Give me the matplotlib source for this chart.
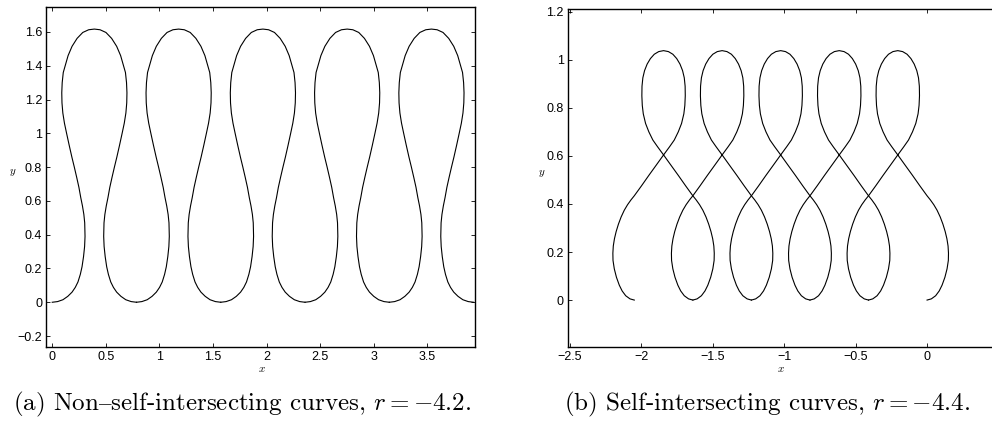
import numpy as np
import matplotlib
matplotlib.use('Agg')
import matplotlib.pyplot as plt

plt.rcParams['mathtext.fontset'] = 'cm'
plt.rcParams['font.family'] = ['Liberation Sans', 'DejaVu Sans']

# one period of the left curve (bottom -> top -> bottom)
loop_a_x = np.array([0.000, 0.050, 0.100, 0.145, 0.185, 0.215, 0.240, 0.262, 0.278, 0.292,
                     0.302, 0.306, 0.303, 0.295, 0.282, 0.266, 0.249, 0.228, 0.206, 0.183,
                     0.158, 0.134, 0.114, 0.099, 0.091, 0.089, 0.093, 0.103, 0.121, 0.148,
                     0.185, 0.232, 0.285, 0.340, 0.393,
                     0.446, 0.501, 0.554, 0.601, 0.638, 0.665, 0.683, 0.693, 0.697, 0.695,
                     0.687, 0.672, 0.652, 0.628, 0.603, 0.580, 0.558, 0.537, 0.520, 0.504,
                     0.491, 0.483, 0.480, 0.484, 0.494, 0.508, 0.524, 0.546, 0.571, 0.601,
                     0.641, 0.686, 0.736, 0.786])
loop_a_y = np.array([0.000, 0.004, 0.015, 0.035, 0.060, 0.088, 0.120, 0.165, 0.210, 0.270,
                     0.330, 0.390, 0.470, 0.520, 0.570, 0.620, 0.680, 0.740, 0.800, 0.860,
                     0.930, 1.000, 1.060, 1.120, 1.180, 1.240, 1.300, 1.360, 1.400, 1.460,
                     1.515, 1.562, 1.597, 1.613, 1.617,
                     1.613, 1.597, 1.562, 1.515, 1.460, 1.400, 1.360, 1.300, 1.240, 1.180,
                     1.120, 1.060, 1.000, 0.930, 0.860, 0.800, 0.740, 0.680, 0.620, 0.570,
                     0.520, 0.470, 0.390, 0.330, 0.270, 0.210, 0.165, 0.120, 0.088, 0.060,
                     0.035, 0.015, 0.004, 0.000])
shifts_a = [0.0, 0.786, 1.572, 2.358, 3.144]

# one period of the right curve (lower loop bottom -> upper loop -> next lower loop bottom)
loop_b_x = np.array([0.000, 0.030, 0.060, 0.085, 0.105, 0.125, 0.140, 0.149, 0.150, 0.147,
                     0.139, 0.127, 0.111, 0.092, 0.070, 0.047, 0.023, 0.000, -0.050, -0.102,
                     -0.153, -0.205, -0.247, -0.280, -0.308, -0.331, -0.347, -0.354, -0.357, -0.356,
                     -0.350, -0.338, -0.320, -0.297, -0.270, -0.239, -0.205,
                     -0.171, -0.140, -0.113, -0.090, -0.072, -0.060, -0.054, -0.053, -0.056, -0.063,
                     -0.079, -0.102, -0.130, -0.163, -0.205, -0.257, -0.308, -0.360, -0.410, -0.433,
                     -0.457, -0.480, -0.502, -0.521, -0.537, -0.549, -0.557, -0.560, -0.559, -0.550,
                     -0.535, -0.515, -0.495, -0.470, -0.440, -0.410])
loop_b_y = np.array([0.000, 0.005, 0.018, 0.038, 0.062, 0.095, 0.130, 0.165, 0.195, 0.225,
                     0.255, 0.285, 0.316, 0.346, 0.374, 0.397, 0.417, 0.434, 0.475, 0.519,
                     0.561, 0.604, 0.638, 0.666, 0.700, 0.735, 0.775, 0.810, 0.850, 0.890,
                     0.925, 0.955, 0.982, 1.005, 1.023, 1.034, 1.038,
                     1.034, 1.023, 1.005, 0.982, 0.955, 0.925, 0.890, 0.850, 0.810, 0.775,
                     0.735, 0.700, 0.666, 0.638, 0.604, 0.561, 0.519, 0.475, 0.434, 0.417,
                     0.397, 0.374, 0.346, 0.316, 0.285, 0.255, 0.225, 0.195, 0.165, 0.130,
                     0.095, 0.062, 0.038, 0.018, 0.005, 0.000])
shifts_b = [0.0, -0.41, -0.82, -1.23, -1.64]

xt_a = [0, 0.5, 1, 1.5, 2, 2.5, 3, 3.5]
xl_a = ['0', '0.5', '1', '1.5', '2', '2.5', '3', '3.5']
yt_a = [-0.2, 0, 0.2, 0.4, 0.6, 0.8, 1, 1.2, 1.4, 1.6]
yl_a = ['\u22120.2', '0', '0.2', '0.4', '0.6', '0.8', '1', '1.2', '1.4', '1.6']
xt_b = [-2.5, -2, -1.5, -1, -0.5, 0]
xl_b = ['\u22122.5', '\u22122', '\u22121.5', '\u22121', '\u22120.5', '0']
yt_b = [0, 0.2, 0.4, 0.6, 0.8, 1, 1.2]
yl_b = ['0', '0.2', '0.4', '0.6', '0.8', '1', '1.2']

cap_a = '(a) Non$\\mathrm{\u2013}$self-intersecting curves, $r=-4.2$.'
cap_b = '(b) Self-intersecting curves, $r=-4.4$.'

fig = plt.figure(figsize=(9.92, 4.21), dpi=100)
ax1 = fig.add_axes([0.0467, 0.1765, 0.4321, 0.8062])
ax2 = fig.add_axes([0.5726, 0.1765, 0.4476, 0.8014])

for s in shifts_a:
    ax1.plot(loop_a_x + s, loop_a_y, color='black', lw=0.8)
for s in shifts_b:
    ax2.plot(loop_b_x + s, loop_b_y, color='black', lw=0.8)

ax1.set_xlim(-0.055, 3.943)
ax1.set_ylim(-0.263, 1.746)
ax2.set_xlim(-2.514, 0.595)
ax2.set_ylim(-0.194, 1.21)

for ax, xt, xl, yt, yl in [(ax1, xt_a, xl_a, yt_a, yl_a), (ax2, xt_b, xl_b, yt_b, yl_b)]:
    ax.set_xticks(xt)
    ax.set_xticklabels(xl)
    ax.set_yticks(yt)
    ax.set_yticklabels(yl)
    ax.tick_params(direction='in', length=3, width=0.6, labelsize=9, pad=3,
                   top=True, right=True)
    for sp in ax.spines.values():
        sp.set_linewidth(1.0)
    ax.set_xlabel('$x$', fontsize=8, va='center')
    ax.set_ylabel('$y$', fontsize=8, rotation=0, va='center', ha='center')

ax1.xaxis.set_label_coords(0.502, -0.066)
ax1.yaxis.set_label_coords(-0.079, 0.512)
ax2.xaxis.set_label_coords(0.48, -0.066)
ax2.yaxis.set_label_coords(-0.059, 0.513)

fig.text(0.2445, 0.024, cap_a, family=['cmr10', 'DejaVu Serif'],
         fontsize=18, ha='center', va='baseline')
fig.text(0.7735, 0.024, cap_b, family=['cmr10', 'DejaVu Serif'],
         fontsize=18, ha='center', va='baseline')

fig.savefig('out.png', dpi=100)
